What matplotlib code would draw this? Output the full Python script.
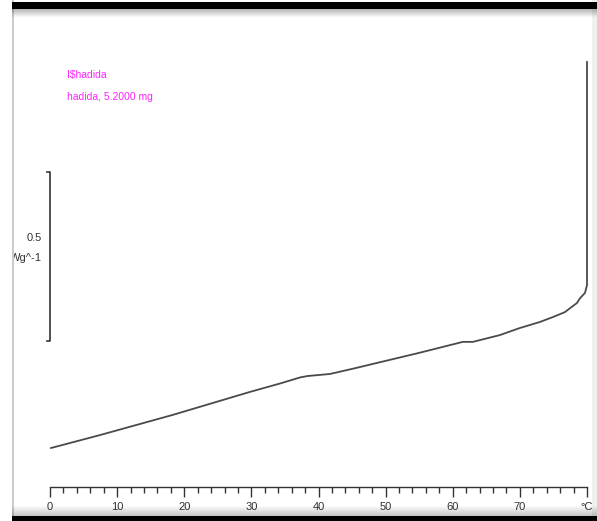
#! /usr/bin/env python3

import numpy as np
import matplotlib
matplotlib.use("Agg")
import matplotlib.pyplot as plt
from matplotlib.patches import Rectangle

# DSC trace: temperature (degC) and heat flow (W/g, relative)
temp = [0.15, 7.4, 18.3, 29.8, 34.3, 35.8, 37.3, 38.4, 41.7, 45.0, 51.1, 55.1,
        61.5, 63.0, 67.0, 70.0, 73.0, 75.0, 76.7, 78.5, 79.0, 79.7, 80.0, 80.0]
heat = [0.000, 0.038, 0.098, 0.166, 0.191, 0.200, 0.209, 0.213, 0.219, 0.234, 0.263, 0.282,
        0.314, 0.314, 0.334, 0.355, 0.373, 0.388, 0.402, 0.429, 0.444, 0.459, 0.482, 1.142]

major_ticks = [0, 10, 20, 30, 40, 50, 60, 70, 80]
tick_labels = ['0', '10', '20', '30', '40', '50', '60', '70', '°C']
minor_ticks = list(range(0, 81, 2))
title_lines = ['I$hadida', 'hadida, 5.2000 mg']
scale_value = 0.5
scale_unit = 'Wg^-1'

plt.rcParams['font.family'] = ['Liberation Sans', 'DejaVu Sans']

W, H = 597, 521
fig = plt.figure(figsize=(W/100, H/100), dpi=100)
fig.patch.set_facecolor('white')
ax = fig.add_axes([0, 0, 1, 1])

# pixel layout of the data area: 0 degC at x=50, 80 degC at x=587
px_per_deg = 537/80
px_per_w = 338
y0_px = 448
ax.set_xlim(-50/px_per_deg, (W - 50)/px_per_deg)
ax.set_ylim((y0_px - H)/px_per_w, y0_px/px_per_w)

ax.plot(temp, heat, color='#4a4a4a', lw=1.3, solid_joinstyle='round')

for s in ['left', 'right', 'top']:
    ax.spines[s].set_visible(False)
ax.spines['bottom'].set_position(('data', (y0_px - 487)/px_per_w))
ax.spines['bottom'].set_bounds(0, 80)
ax.spines['bottom'].set_color('#333333')
ax.spines['bottom'].set_linewidth(1.0)
ax.set_yticks([])
ax.set_xticks(major_ticks)
ax.set_xticklabels(tick_labels)
ax.set_xticks(minor_ticks, minor=True)
ax.tick_params(axis='x', which='major', direction='out', length=7, width=1.0,
               color='#333333', labelsize=8, labelcolor='#333333', pad=4)
ax.tick_params(axis='x', which='minor', direction='out', length=4, width=1.0,
               color='#333333')

# scale bar
sb_bottom = (y0_px - 341)/px_per_w
sb_top = sb_bottom + scale_value
tk = 3/px_per_deg
ax.plot([-tk, 0, 0, -tk], [sb_bottom, sb_bottom, sb_top, sb_top],
        color='#333333', lw=1.2)
ax.text(-1.2, (y0_px - 238)/px_per_w, str(scale_value), ha='right', va='center',
        fontsize=8, color='#333333')
ax.text(-1.2, (y0_px - 258)/px_per_w, scale_unit, ha='right', va='center',
        fontsize=8, color='#333333')

# sample label
lx = (67 - 50)/px_per_deg
ax.text(lx, (y0_px - 75)/px_per_w, title_lines[0],
        ha='left', va='center', fontsize=7.5, color='#ff22ff')
ax.text(lx, (y0_px - 97)/px_per_w, title_lines[1],
        ha='left', va='center', fontsize=7.5, color='#ff22ff')


def rect(x, y, w, h, **kw):
    # rectangle in pixel coords, origin top-left
    fig.patches.append(Rectangle((x/W, 1 - (y + h)/H), w/W, h/H,
                                 transform=fig.transFigure, zorder=10, **kw))


# window frame
rect(0, 0, 12, H, color='white', lw=0)
rect(12, 0, 2, H, color='#cccccc', lw=0)
rect(592, 0, 5, H, color='#f0f0f0', lw=0)
rect(12, 2, W - 12, 7, color='black', lw=0)
for i in range(8):
    rect(12, 9 + i, W - 12, 1, color='black', alpha=0.28*(1 - i/8), lw=0)
rect(12, 516, W - 12, 5, color='black', lw=0)
for i in range(10):
    rect(12, 515 - i, W - 12, 1, color='black', alpha=0.22*(1 - i/10), lw=0)

fig.savefig('out.png', dpi=100, facecolor='white')
